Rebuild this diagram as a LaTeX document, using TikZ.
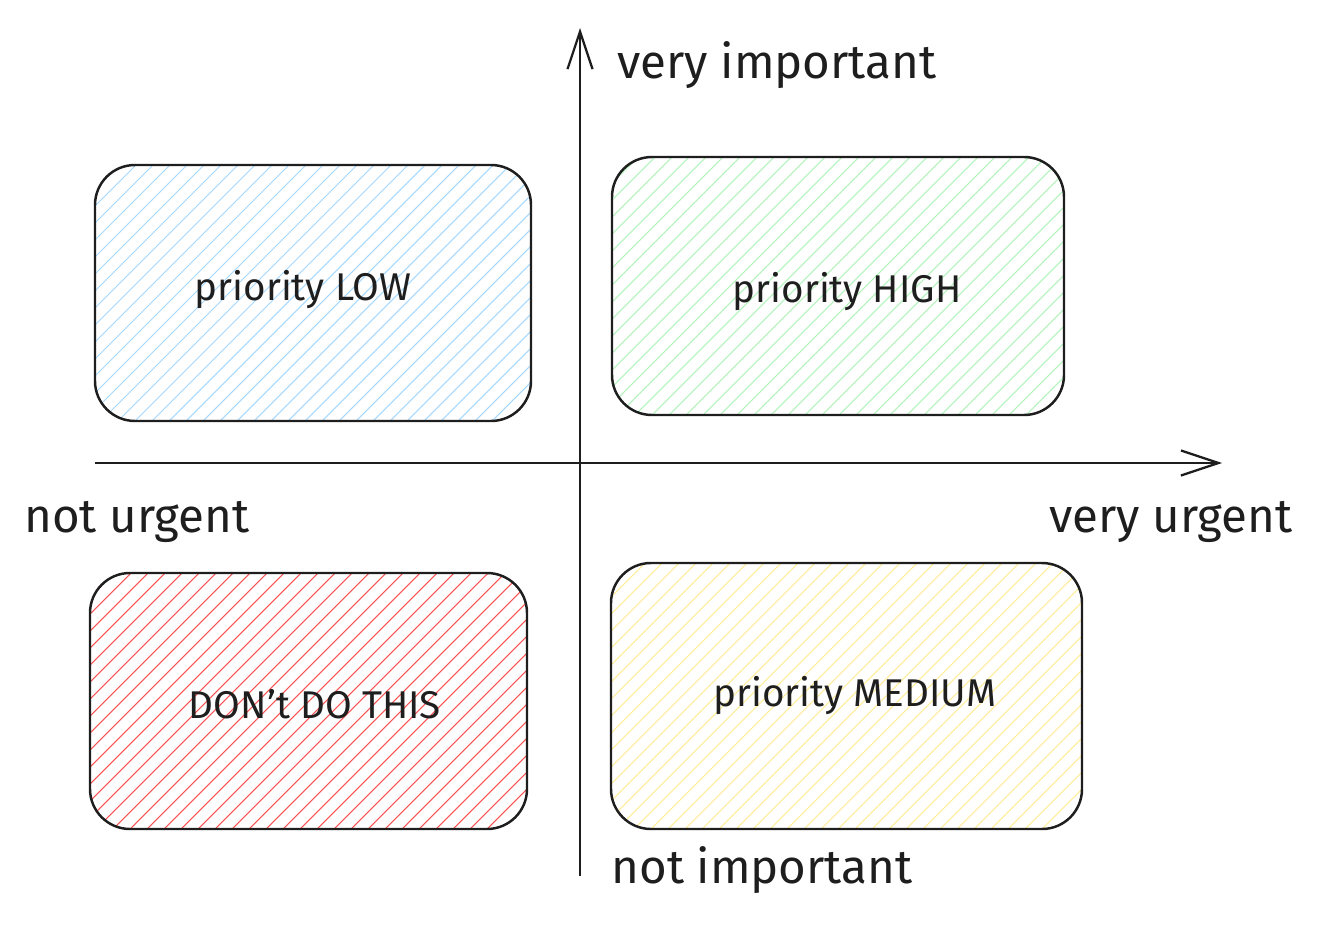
\documentclass[tikz,border=0pt]{standalone}
\usepackage{fontspec}
\setmainfont{Fira Sans}
\usetikzlibrary{arrows.meta,calc}
\definecolor{ink}{HTML}{1E1E1E}
\definecolor{hblue}{HTML}{A5D8FF}
\definecolor{hgreen}{HTML}{B2F2BB}
\definecolor{hred}{HTML}{FA5252}
\definecolor{hyellow}{HTML}{FFEC99}
\tikzset{
  hatchbox/.style={draw=ink, line width=1.4pt, rounded corners=0.8cm,
    path picture={
      \foreach \k in {0,...,50}{
        \draw[#1, line width=0.6pt]
          ($(path picture bounding box.south west)+(\k*17-300,0)$) -- ++(300,-300);
      }
    }},
  boxtext/.style={text=ink, font=\fontsize{22}{26}\selectfont, inner sep=0pt},
  axis/.style={draw=ink, line width=1.3pt, -{Straight Barb[length=0.75cm,width=0.5cm]}},
  axlabel/.style={text=ink, font=\fontsize{27}{31}\selectfont, inner sep=0pt},
}
\begin{document}
\begin{tikzpicture}[x=0.02cm,y=-0.02cm]
\useasboundingbox (0,0) rectangle (1324,942);
\node[hatchbox=hblue, minimum width=436*0.02cm, minimum height=256*0.02cm] (low) at (313,293) {};
\node[hatchbox=hgreen, minimum width=452*0.02cm, minimum height=258*0.02cm] (high) at (838,286) {};
\node[hatchbox=hred, minimum width=437*0.02cm, minimum height=256*0.02cm] (dont) at (308.5,701) {};
\node[hatchbox=hyellow, minimum width=471*0.02cm, minimum height=266*0.02cm] (med) at (846.5,696) {};
\node[boxtext] (lowt) at (303,290) {priority LOW};
\node[boxtext] (hight) at (847,292) {priority HIGH};
\node[boxtext] (dontt) at (315,704) {DON't DO THIS};
\node[boxtext] (medt) at (855,696) {priority MEDIUM};
\coordinate (vb) at (580,876);
\coordinate (vt) at (580,28);
\coordinate (hl) at (95,463);
\coordinate (hr) at (1222,463);
\draw[axis] (vb) -- (vt);
\draw[axis] (hl) -- (hr);
\node[axlabel] (vimp) at (777,65) {very important};
\node[axlabel] (nurg) at (137,522) {not urgent};
\node[axlabel] (vurg) at (1171,522) {very urgent};
\node[axlabel] (nimp) at (762,870) {not important};
\end{tikzpicture}
\end{document}
